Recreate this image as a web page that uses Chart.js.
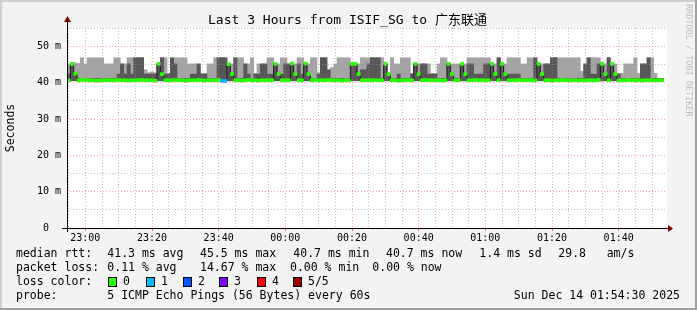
<!DOCTYPE html>
<html>
<head>
<meta charset="utf-8">
<script src="https://cdn.jsdelivr.net/npm/chart.js@4"></script>
<style>
  html, body { margin: 0; padding: 0; background: #f3f3f3; }
  #wrap { width: 697px; height: 310px; }
</style>
</head>
<body>
<div id="wrap"><canvas id="c" width="697" height="310"></canvas></div>
<script>
// one category per 60 s step, bar i is centred on 22:55 + i minutes
const minutes = [];
for (let i = 0; i < 180; i++) {
  const t = (22 * 60 + 55 + i) % 1440;
  minutes.push(String(Math.floor(t / 60)).padStart(2, "0") + ":" + String(t % 60).padStart(2, "0"));
}
const tickLabels = ["23:00", "23:20", "23:40", "00:00", "00:20", "00:40", "01:00", "01:20", "01:40"];

// ms values
const medianRtt = [
  40.7,45.2,42.5,40.7,40.8,40.8,40.7,40.7,40.6,40.6,
  40.7,40.7,40.7,40.7,40.7,40.8,40.7,40.7,40.6,40.7,
  40.7,40.7,40.8,40.7,40.7,40.7,40.6,45.2,42.4,40.7,
  40.7,40.7,40.8,40.7,40.7,40.6,40.7,40.7,40.7,40.8,
  40.7,40.6,40.7,40.7,40.7,40.8,40.5,40.5,45.1,42.4,
  40.7,40.7,40.6,40.7,40.8,40.7,40.7,40.6,40.7,40.7,
  40.7,40.7,45.2,42.4,40.7,40.7,40.7,45.3,42.4,40.7,
  40.7,45.3,42.4,40.7,40.8,40.7,40.7,40.7,40.8,40.7,
  40.7,40.7,40.6,40.7,40.7,45.2,45.2,42.4,40.7,40.7,
  40.8,40.7,40.7,40.7,40.7,45.2,42.4,40.7,40.7,40.6,
  40.7,40.7,40.7,40.7,45.2,42.4,40.7,40.8,40.7,40.7,
  40.7,40.7,40.6,40.7,45.2,42.4,40.7,40.7,45.2,42.4,
  40.7,40.7,40.8,40.7,40.7,40.7,40.7,45.2,42.4,40.7,
  45.2,42.4,40.7,40.7,40.7,40.8,40.7,40.7,40.7,40.7,
  40.7,45.2,42.4,40.7,40.7,40.6,40.7,40.7,40.8,40.7,
  40.7,40.7,40.7,40.6,40.7,40.7,40.7,40.7,40.7,40.8,
  45.2,42.4,40.7,45.2,42.4,40.7,40.7,40.7,40.8,40.7,
  40.7,40.7,40.6,40.7,40.7,40.7,40.7,40.7,40.7,null
];
// upper edge of the dark smoke (ping 2..4)
const upperRtt = [
  42.4,45.3,42.5,41.2,41.2,41.2,41.2,41.2,41.2,41.2,
  41.2,41.2,41.2,41.2,41.2,42.4,45.2,42.4,45.2,42.4,
  46.9,46.9,46.9,42.4,42.4,42.4,42.4,45.2,46.9,42.4,
  42.4,46.9,45.2,41.2,41.2,41.2,41.2,42.4,42.4,45.2,
  42.4,42.4,41.2,41.2,41.2,46.9,46.9,46.9,45.2,42.4,
  46.9,41.2,41.2,45.2,42.4,41.2,42.4,42.4,45.2,45.2,
  42.4,42.4,45.2,42.4,42.4,45.2,45.2,45.3,42.4,45.2,
  42.4,45.3,42.4,41.2,41.2,42.4,46.9,46.9,43.6,41.2,
  41.2,41.2,41.2,41.2,41.2,45.2,45.2,42.4,43.6,43.6,
  45.2,46.9,46.9,46.9,41.2,45.3,42.4,41.2,41.2,42.4,
  41.2,41.2,41.2,42.4,45.3,42.4,45.2,45.2,42.4,42.4,
  42.4,41.2,41.2,41.2,45.3,42.4,41.2,41.2,45.3,42.4,
  45.2,45.2,42.4,42.4,42.4,45.2,45.2,45.3,42.4,46.9,
  45.3,42.4,42.4,42.4,42.4,42.4,41.2,41.2,41.2,41.2,
  46.9,45.3,42.4,45.2,45.2,46.9,46.9,41.2,41.2,41.2,
  41.2,41.2,41.2,41.2,41.2,45.2,46.9,42.4,42.4,45.2,
  45.3,42.4,46.9,45.3,42.4,42.4,41.2,41.2,41.2,41.2,
  41.2,41.2,45.2,45.2,46.9,41.2,41.2,41.2,41.2,null
];
// upper edge of the light smoke (ping 1..5)
const maxRtt = [
  45.2,45.5,45.5,45.3,46.9,45.2,46.9,46.9,46.9,46.9,
  46.9,45.2,45.2,45.2,46.9,46.9,45.2,45.2,46.9,46.9,
  46.9,46.9,46.9,43.6,42.8,43.0,42.8,45.3,46.9,46.9,
  42.6,45.2,46.9,46.9,46.9,46.9,45.2,45.2,45.2,45.2,
  42.6,42.6,45.2,45.2,46.9,46.9,46.9,46.9,45.3,45.2,
  46.9,46.9,46.9,45.2,45.2,46.9,42.6,45.2,45.2,45.2,
  46.9,46.9,45.3,45.2,46.9,46.9,45.2,45.4,45.2,46.9,
  46.9,45.4,45.2,46.9,46.9,42.8,46.9,46.9,43.6,44.2,
  45.2,46.9,46.9,46.9,46.9,45.3,45.3,45.2,46.9,46.9,
  46.9,46.9,46.9,46.9,46.9,45.3,42.6,46.9,45.2,45.2,
  46.9,46.9,46.9,42.6,45.3,45.2,45.2,45.2,45.2,42.6,
  42.6,45.2,46.9,46.9,45.3,45.2,45.2,45.2,45.3,45.2,
  46.9,46.9,46.9,46.9,46.9,46.9,46.9,45.3,45.2,46.9,
  45.3,45.2,46.9,46.9,46.9,46.9,45.2,45.2,46.9,46.9,
  46.9,45.3,45.2,45.2,45.2,46.9,46.9,46.9,46.9,46.9,
  46.9,46.9,46.9,46.9,43.2,45.2,46.9,46.9,46.9,46.9,
  45.3,45.2,46.9,45.3,45.2,42.6,42.6,45.2,45.2,45.2,
  46.9,42.6,45.2,45.2,46.9,46.9,42.6,41.0,41.0,null
];
// lost pings out of 5 per step
const lossCount = [
  0,0,0,0,0,0,0,0,0,0, 0,0,0,0,0,0,0,0,0,0, 0,0,0,0,0,0,0,0,0,0,
  0,0,0,0,0,0,0,0,0,0, 0,0,0,0,0,0,1,1,0,0, 0,0,0,0,0,0,0,0,0,0,
  0,0,0,0,0,0,0,0,0,0, 0,0,0,0,0,0,0,0,0,0, 0,0,0,0,0,0,0,0,0,0,
  0,0,0,0,0,0,0,0,0,0, 0,0,0,0,0,0,0,0,0,0, 0,0,0,0,0,0,0,0,0,0,
  0,0,0,0,0,0,0,0,0,0, 0,0,0,0,0,0,0,0,0,0, 0,0,0,0,0,0,0,0,0,0,
  0,0,0,0,0,0,0,0,0,0, 0,0,0,0,0,0,0,0,0,0, 0,0,0,0,0,0,0,0,0,0
];
const lossColors = ["#26ff00", "#00b8ff", "#0059ff", "#7e00ff", "#ff0000", "#a10000"];
const lossNames = ["0", "1", "2", "3", "4", "5/5"];

const MONO = '"DejaVu Sans Mono", "Noto Sans CJK SC", monospace';
const lowEdge = 40.5; // bottom of the smoke

function minuteOf(label) { return +label.slice(3); }

// 🔥 background, frame, axes arrows, title and the text block below the graph
const rrdDecor = {
  id: "rrdDecor",
  beforeDraw(chart) {
    const { ctx, chartArea: a } = chart;
    ctx.save();
    ctx.fillStyle = "#f3f3f3";
    ctx.fillRect(0, 0, chart.width, chart.height);
    ctx.fillStyle = "#ffffff";
    ctx.fillRect(a.left, a.top, a.right - a.left, a.bottom - a.top);
    ctx.restore();
  },
  afterDraw(chart) {
    const { ctx, chartArea: a } = chart;
    ctx.save();

    // frame
    ctx.fillStyle = "#d0d0d0";
    ctx.fillRect(0, 0, chart.width, 2);
    ctx.fillRect(0, 0, 2, chart.height);
    ctx.fillStyle = "#a0a0a0";
    ctx.fillRect(0, chart.height - 2, chart.width, 2);
    ctx.fillRect(chart.width - 2, 0, 2, chart.height);

    // axes
    ctx.strokeStyle = "#000";
    ctx.lineWidth = 1;
    ctx.beginPath();
    ctx.moveTo(a.left - 5, a.bottom + 0.5);
    ctx.lineTo(a.right + 2, a.bottom + 0.5);
    ctx.moveTo(a.left + 0.5, a.bottom + 4);
    ctx.lineTo(a.left + 0.5, a.top - 8);
    ctx.stroke();
    ctx.fillStyle = "#800000";
    ctx.beginPath();
    ctx.moveTo(a.right + 1, a.bottom - 3);
    ctx.lineTo(a.right + 1, a.bottom + 4);
    ctx.lineTo(a.right + 6, a.bottom + 0.5);
    ctx.closePath();
    ctx.fill();
    ctx.beginPath();
    ctx.moveTo(a.left - 3, a.top - 6);
    ctx.lineTo(a.left + 4, a.top - 6);
    ctx.lineTo(a.left + 0.5, a.top - 12);
    ctx.closePath();
    ctx.fill();

    ctx.fillStyle = "#000";
    ctx.textBaseline = "middle";

    // title
    ctx.font = "13px " + MONO;
    ctx.textAlign = "center";
    ctx.fillText("Last 3 Hours from ISIF_SG to 广东联通", 347.5, 21);

    // vertical label
    ctx.font = "11.5px " + MONO;
    ctx.save();
    ctx.translate(11, 128);
    ctx.rotate(-Math.PI / 2);
    ctx.fillText("Seconds", 0, 0);
    ctx.restore();

    // watermark
    ctx.save();
    ctx.font = "8.5px " + MONO;
    ctx.fillStyle = "#bdbdbd";
    ctx.translate(688, 4);
    ctx.rotate(Math.PI / 2);
    ctx.textAlign = "left";
    ctx.fillText("RRDTOOL / TOBI OETIKER", 0, 0);
    ctx.restore();

    // legend text
    ctx.font = "11.5px " + MONO;
    ctx.textAlign = "left";
    const rows = [
      [254, [[16, "median rtt:"], [107.3, "41.3 ms avg"], [200, "45.5 ms max"], [293.3, "40.7 ms min"],
             [386, "40.7 ms now"], [479.3, "1.4 ms sd"], [558.3, "29.8"], [606.7, "am/s"]]],
      [268, [[16, "packet loss:"], [107.3, "0.11 % avg"], [200, "14.67 % max"], [290, "0.00 % min"], [372.3, "0.00 % now"]]],
      [282, [[16, "loss color:"]]],
      [296, [[16, "probe:"], [107.3, "5 ICMP Echo Pings (56 Bytes) every 60s"]]]
    ];
    rows.forEach(([y, items]) => items.forEach(([x, s]) => ctx.fillText(s, x, y)));
    ctx.textAlign = "right";
    ctx.fillText("Sun Dec 14 01:54:30 2025", 680, 296);

    // loss colour swatches
    ctx.textAlign = "left";
    const boxX = [108.3, 145.7, 182.7, 219.3, 256.7, 293.3];
    lossColors.forEach((col, i) => {
      const x = Math.round(boxX[i]);
      ctx.fillStyle = col;
      ctx.fillRect(x, 277, 8, 9);
      ctx.strokeStyle = "#000";
      ctx.strokeRect(x + 0.5, 277.5, 8, 9);
      ctx.fillStyle = "#000";
      ctx.fillText(lossNames[i], x + 15, 282);
    });

    ctx.restore();
  }
};

new Chart(document.getElementById("c"), {
  type: "bar",
  data: {
    labels: minutes,
    datasets: [
      {
        label: "median",
        data: medianRtt.map(v => v == null ? null : [v - 0.4, v + 0.4]),
        backgroundColor: lossCount.map(n => lossColors[n]),
        order: 0
      },
      {
        type: "line",
        label: "median step",
        data: medianRtt,
        borderColor: "#1a1a1a",
        borderWidth: 1,
        pointRadius: 0,
        stepped: "middle",
        order: 1
      },
      {
        label: "ping 2-4",
        data: upperRtt.map(v => v == null ? null : [lowEdge + 0.1, v]),
        backgroundColor: "#585858",
        order: 2
      },
      {
        label: "ping 1-5",
        data: maxRtt.map(v => v == null ? null : [lowEdge, v]),
        backgroundColor: "#a4a4a4",
        order: 3
      }
    ]
  },
  options: {
    responsive: false,
    animation: false,
    layout: { padding: { top: 28, right: 30, left: 0, bottom: 0 } },
    datasets: { bar: { grouped: false, barPercentage: 1, categoryPercentage: 1, borderWidth: 0 } },
    plugins: { legend: { display: false }, tooltip: { enabled: false }, title: { display: false } },
    scales: {
      x: {
        offset: true,
        afterFit(scale) { scale.height = 82; },
        border: { display: false, dash: [1, 2] },
        grid: {
          offset: false,
          z: 1,
          lineWidth: 1,
          tickLength: 3,
          tickBorderDash: [],
          color(c) {
            const m = minuteOf(minutes[c.index] || "00:01");
            if (m % 20 === 0) return "rgba(255,90,90,0.55)";
            if (m % 5 === 0) return "rgba(150,150,150,0.6)";
            return "rgba(0,0,0,0)";
          },
          tickColor(c) {
            const m = minuteOf(minutes[c.index] || "00:01");
            if (m % 20 === 0) return "rgba(255,60,60,0.8)";
            return "rgba(0,0,0,0)";
          }
        },
        ticks: {
          autoSkip: false,
          maxRotation: 0,
          minRotation: 0,
          padding: 1,
          color: "#000",
          font: { family: MONO, size: 10 },
          callback(v, i) { return tickLabels.includes(minutes[i]) ? minutes[i] : ""; }
        }
      },
      y: {
        min: 0,
        max: 55.1,
        afterFit(scale) { scale.width = 67; },
        border: { display: false, dash: [1, 2] },
        grid: {
          z: 1,
          drawTicks: false,
          color(c) {
            const v = c.tick.value;
            if (v === 0) return "rgba(0,0,0,0)";
            return v % 10 === 0 ? "rgba(255,90,90,0.55)" : "rgba(150,150,150,0.6)";
          }
        },
        ticks: {
          stepSize: 5,
          includeBounds: false,
          padding: 6,
          color: "#000",
          font: { family: MONO, size: 10 },
          callback(v) { return v % 10 !== 0 ? "" : (v === 0 ? "0  " : v + " m"); }
        }
      }
    }
  },
  plugins: [rrdDecor]
});
</script>
</body>
</html>
